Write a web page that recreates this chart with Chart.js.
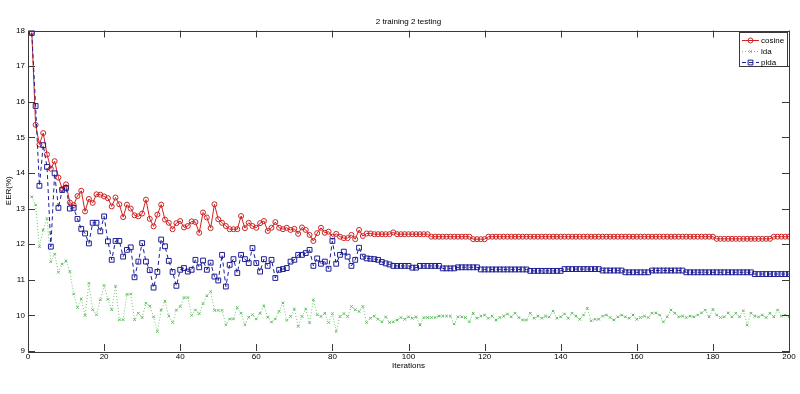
<!DOCTYPE html>
<html>
<head>
<meta charset="utf-8">
<script src="https://cdn.jsdelivr.net/npm/chart.js@4.4.1/dist/chart.umd.min.js"></script>
<style>
  html, body { margin: 0; padding: 0; background: #fff; }
  canvas { display: block; }
</style>
</head>
<body>
<canvas id="eer-chart" width="800" height="394"></canvas>
<script>
// x positions: one point per training iteration
const iterations = Array.from({ length: 200 }, (_, i) => i + 1);

const cosineEer = [
  17.95, 15.35, 14.8, 15.12, 14.52, 14.12, 14.33, 13.87, 13.55, 13.68,
  13.17, 13.1, 13.35, 13.5, 12.92, 13.27, 13.16, 13.4, 13.39, 13.34,
  13.29, 13.06, 13.31, 13.12, 12.76, 13.11, 13.0, 12.81, 12.78, 12.86,
  13.25, 12.71, 12.5, 12.83, 13.11, 12.69, 12.6, 12.42, 12.59, 12.65,
  12.47, 12.51, 12.64, 12.62, 12.32, 12.89, 12.75, 12.45, 13.12, 12.7,
  12.6, 12.51, 12.42, 12.42, 12.42, 12.79, 12.45, 12.6, 12.51, 12.46,
  12.59, 12.65, 12.37, 12.46, 12.62, 12.46, 12.42, 12.46, 12.4, 12.43,
  12.29, 12.47, 12.4, 12.26, 12.09, 12.31, 12.46, 12.32, 12.35, 12.21,
  12.29, 12.21, 12.17, 12.17, 12.26, 12.14, 12.4, 12.23, 12.3, 12.3,
  12.28, 12.28, 12.28, 12.28, 12.28, 12.33, 12.28, 12.28, 12.28, 12.28,
  12.28, 12.28, 12.28, 12.28, 12.28, 12.21, 12.21, 12.21, 12.21, 12.21,
  12.21, 12.21, 12.21, 12.21, 12.21, 12.21, 12.14, 12.14, 12.14, 12.14,
  12.21, 12.21, 12.21, 12.21, 12.21, 12.21, 12.21, 12.21, 12.21, 12.21,
  12.21, 12.21, 12.21, 12.21, 12.21, 12.21, 12.21, 12.21, 12.21, 12.21,
  12.21, 12.21, 12.21, 12.21, 12.21, 12.21, 12.21, 12.21, 12.21, 12.21,
  12.21, 12.21, 12.21, 12.21, 12.21, 12.21, 12.21, 12.21, 12.21, 12.21,
  12.21, 12.21, 12.21, 12.21, 12.21, 12.21, 12.21, 12.21, 12.21, 12.21,
  12.21, 12.21, 12.21, 12.21, 12.21, 12.21, 12.21, 12.21, 12.21, 12.21,
  12.15, 12.15, 12.15, 12.15, 12.15, 12.15, 12.15, 12.15, 12.15, 12.15,
  12.15, 12.15, 12.15, 12.15, 12.15, 12.21, 12.21, 12.21, 12.21, 12.21,
];

const ldaEer = [
  13.33, 13.1, 11.93, 12.4, 12.72, 11.51, 11.72, 11.21, 11.44, 11.53,
  11.23, 10.6, 10.22, 10.46, 10.0, 10.9, 10.16, 10.02, 10.44, 10.84,
  10.45, 10.16, 10.82, 9.88, 9.88, 10.59, 10.6, 9.88, 10.06, 9.94,
  10.34, 10.26, 9.96, 9.55, 10.15, 10.4, 9.98, 9.8, 10.15, 10.25,
  10.5, 10.5, 10.0, 10.15, 10.05, 10.33, 10.55, 10.67, 10.14, 10.14,
  10.14, 9.74, 9.9, 9.9, 10.22, 10.06, 9.74, 9.95, 10.02, 9.9,
  10.06, 10.27, 9.95, 9.81, 9.9, 10.11, 10.35, 9.86, 9.97, 10.18,
  9.69, 9.97, 10.18, 9.79, 10.44, 10.02, 9.97, 10.06, 9.8, 10.05,
  9.55, 9.97, 10.05, 9.97, 10.25, 10.16, 10.11, 10.25, 9.8, 9.92,
  9.98, 9.89, 9.82, 9.96, 9.8, 9.82, 9.87, 9.94, 9.89, 9.96,
  9.92, 9.96, 9.73, 9.94, 9.94, 9.94, 9.94, 9.98, 9.98, 9.98,
  9.98, 9.76, 9.96, 9.96, 9.94, 9.82, 10.06, 9.92, 9.98, 10.01,
  9.92, 9.98, 9.87, 9.94, 9.98, 10.04, 9.96, 10.06, 9.94, 9.87,
  9.87, 10.06, 9.92, 9.98, 9.92, 9.98, 9.96, 10.12, 9.92, 9.96,
  10.04, 9.92, 10.06, 9.98, 9.89, 10.01, 10.2, 9.85, 9.89, 9.89,
  9.98, 10.01, 9.94, 9.87, 9.96, 10.01, 9.96, 9.92, 10.01, 9.89,
  9.94, 9.98, 9.94, 10.06, 10.07, 10.01, 9.82, 9.96, 10.15, 10.06,
  9.96, 9.98, 9.94, 9.98, 9.96, 10.01, 10.07, 10.15, 9.96, 10.17,
  10.01, 9.94, 9.96, 10.07, 9.96, 10.06, 9.96, 10.13, 9.73, 10.06,
  9.98, 9.96, 10.01, 9.94, 10.06, 9.96, 10.15, 9.98, 10.01, 9.96,
];

const pldaEer = [
  17.93, 15.88, 13.64, 14.78, 14.17, 11.93, 13.99, 13.02, 13.52, 13.58,
  13.0, 13.02, 12.71, 12.43, 12.3, 12.02, 12.6, 12.6, 12.36, 12.78,
  12.08, 11.56, 12.09, 12.09, 11.65, 11.84, 11.91, 11.07, 11.51, 12.03,
  11.51, 11.27, 10.78, 11.22, 12.13, 11.94, 11.53, 11.22, 10.83, 11.28,
  11.33, 11.23, 11.28, 11.56, 11.35, 11.54, 11.28, 11.48, 11.09, 10.98,
  11.7, 10.81, 11.42, 11.58, 11.19, 11.7, 11.58, 11.47, 11.89, 11.47,
  11.23, 11.58, 11.39, 11.56, 11.05, 11.28, 11.3, 11.33, 11.51, 11.56,
  11.7, 11.7, 11.75, 11.84, 11.39, 11.6, 11.45, 11.51, 11.31, 12.09,
  11.45, 11.7, 11.79, 11.65, 11.39, 11.56, 11.9, 11.65, 11.6, 11.59,
  11.58, 11.56, 11.5, 11.46, 11.43, 11.39, 11.39, 11.39, 11.39, 11.39,
  11.34, 11.34, 11.39, 11.39, 11.39, 11.39, 11.39, 11.39, 11.32, 11.32,
  11.32, 11.32, 11.35, 11.35, 11.35, 11.35, 11.35, 11.35, 11.29, 11.29,
  11.29, 11.29, 11.29, 11.29, 11.29, 11.29, 11.29, 11.29, 11.29, 11.29,
  11.29, 11.25, 11.25, 11.25, 11.25, 11.25, 11.25, 11.25, 11.25, 11.25,
  11.3, 11.3, 11.3, 11.3, 11.3, 11.3, 11.3, 11.3, 11.3, 11.3,
  11.26, 11.26, 11.26, 11.26, 11.26, 11.26, 11.21, 11.21, 11.21, 11.21,
  11.21, 11.21, 11.21, 11.26, 11.26, 11.26, 11.26, 11.26, 11.26, 11.26,
  11.26, 11.26, 11.21, 11.21, 11.21, 11.21, 11.21, 11.21, 11.21, 11.21,
  11.21, 11.21, 11.21, 11.21, 11.21, 11.21, 11.21, 11.21, 11.21, 11.21,
  11.16, 11.16, 11.16, 11.16, 11.16, 11.16, 11.16, 11.16, 11.16, 11.16,
];

const xTicks = [0, 20, 40, 60, 80, 100, 120, 140, 160, 180, 200];
const yTicks = [9, 10, 11, 12, 13, 14, 15, 16, 17, 18];

const AXIS_COLOR = "#3a3a3a";
const TICK_LEN = 7;
const FONT_FAMILY = "'Liberation Sans', Arial, Helvetica, sans-serif";

Chart.defaults.font.family = FONT_FAMILY;
Chart.defaults.font.size = 8;
Chart.defaults.color = "#000";

function toPoints(values) {
  return values.map((v, i) => ({ x: iterations[i], y: v }));
}

// matlab style box around the axes with inward tick marks on all four sides
const matlabAxes = {
  id: "matlabAxes",
  afterDatasetsDraw(chart) {
    const { ctx, chartArea: a, scales } = chart;
    ctx.save();
    ctx.strokeStyle = AXIS_COLOR;
    ctx.lineWidth = 1;
    ctx.setLineDash([]);
    ctx.beginPath();
    scales.x.ticks.forEach((t) => {
      const px = Math.round(scales.x.getPixelForValue(t.value)) + 0.5;
      ctx.moveTo(px, a.bottom);
      ctx.lineTo(px, a.bottom - TICK_LEN);
      ctx.moveTo(px, a.top);
      ctx.lineTo(px, a.top + TICK_LEN);
    });
    scales.y.ticks.forEach((t) => {
      const py = Math.round(scales.y.getPixelForValue(t.value)) + 0.5;
      ctx.moveTo(a.left, py);
      ctx.lineTo(a.left + TICK_LEN, py);
      ctx.moveTo(a.right, py);
      ctx.lineTo(a.right - TICK_LEN, py);
    });
    ctx.stroke();
    ctx.strokeRect(
      Math.round(a.left) + 0.5,
      Math.round(a.top) + 0.5,
      Math.round(a.width),
      Math.round(a.height)
    );
    ctx.restore();
  },
};

// legend box inside the top right corner, line + marker samples
const boxLegend = {
  id: "boxLegend",
  afterDraw(chart) {
    const { ctx, chartArea: a } = chart;
    const w = 48;
    const h = 34;
    const rowH = 11;
    const x0 = Math.round(a.right) - w - 2;
    const y0 = Math.round(a.top) + 1;
    ctx.save();
    ctx.fillStyle = "#fff";
    ctx.fillRect(x0, y0, w, h);
    ctx.strokeStyle = AXIS_COLOR;
    ctx.lineWidth = 1;
    ctx.strokeRect(x0 + 0.5, y0 + 0.5, w, h);

    chart.data.datasets.forEach((ds, i) => {
      const cy = y0 + 8 + i * rowH + 0.5;
      ctx.strokeStyle = ds.borderColor;
      ctx.lineWidth = 1;
      ctx.setLineDash(ds.borderDash || []);
      ctx.beginPath();
      ctx.moveTo(x0 + 3, cy);
      ctx.lineTo(x0 + 20, cy);
      ctx.stroke();
      ctx.setLineDash([]);
      ctx.fillStyle = "rgba(0,0,0,0)";
      Chart.helpers.drawPoint(
        ctx,
        { pointStyle: ds.pointStyle, radius: ds.pointRadius, borderWidth: 1, rotation: 0 },
        x0 + 11.5,
        cy
      );
      ctx.fillStyle = "#000";
      ctx.font = "8px " + FONT_FAMILY;
      ctx.textBaseline = "middle";
      ctx.textAlign = "left";
      ctx.fillText(ds.label, x0 + 22, cy);
    });
    ctx.restore();
  },
};

const ctx = document.getElementById("eer-chart").getContext("2d");
new Chart(ctx, {
  type: "line",
  data: {
    datasets: [
      {
        label: "cosine",
        data: toPoints(cosineEer),
        borderColor: "rgb(205, 35, 35)",
        backgroundColor: "rgba(0,0,0,0)",
        borderWidth: 1,
        pointStyle: "circle",
        pointRadius: 2.5,
        pointBorderWidth: 1,
        pointBorderColor: "rgb(205, 35, 35)",
        pointBackgroundColor: "rgba(0,0,0,0)",
        tension: 0,
        order: 3,
      },
      {
        label: "lda",
        data: toPoints(ldaEer),
        borderColor: "rgb(110, 195, 110)",
        backgroundColor: "rgba(0,0,0,0)",
        borderWidth: 1,
        borderDash: [1, 2],
        pointStyle: "crossRot",
        pointRadius: 1.8,
        pointBorderWidth: 1,
        pointBorderColor: "rgb(95, 185, 95)",
        pointBackgroundColor: "rgba(0,0,0,0)",
        tension: 0,
        order: 2,
      },
      {
        label: "plda",
        data: toPoints(pldaEer),
        borderColor: "rgb(30, 30, 150)",
        backgroundColor: "rgba(0,0,0,0)",
        borderWidth: 1,
        borderDash: [4, 3],
        pointStyle: "rect",
        pointRadius: 3.4,
        pointBorderWidth: 1,
        pointBorderColor: "rgb(30, 30, 150)",
        pointBackgroundColor: "rgba(0,0,0,0)",
        tension: 0,
        order: 1,
      },
    ],
  },
  options: {
    responsive: false,
    animation: false,
    devicePixelRatio: 1,
    layout: {
      padding: { left: 0, right: 11, top: 0, bottom: 23 },
    },
    plugins: {
      legend: { display: false },
      tooltip: { enabled: false },
      title: {
        display: true,
        text: "2 training 2 testing",
        fullSize: false,
        color: "#000",
        font: { size: 8, weight: "normal" },
        padding: { top: 16.7, bottom: 4.2 },
      },
    },
    scales: {
      x: {
        type: "linear",
        min: 0,
        max: 200,
        afterBuildTicks: (scale) => {
          scale.ticks = xTicks.map((v) => ({ value: v }));
        },
        afterFit: (scale) => {
          scale.height = 20;
        },
        ticks: {
          autoSkip: false,
          maxRotation: 0,
          padding: 1,
          color: "#000",
          font: { size: 8 },
        },
        grid: { display: false, drawTicks: false },
        border: { display: false },
        title: {
          display: true,
          text: "Iterations",
          color: "#000",
          font: { size: 8 },
          padding: { top: 0, bottom: 0 },
        },
      },
      y: {
        type: "linear",
        min: 9,
        max: 18,
        afterBuildTicks: (scale) => {
          scale.ticks = yTicks.map((v) => ({ value: v }));
        },
        afterFit: (scale) => {
          scale.width = 28;
        },
        ticks: {
          autoSkip: false,
          padding: 3,
          color: "#000",
          font: { size: 8 },
        },
        grid: { display: false, drawTicks: false },
        border: { display: false },
        title: {
          display: true,
          text: "EER(%)",
          color: "#000",
          font: { size: 8 },
          padding: { top: 4.4, bottom: 0 },
        },
      },
    },
  },
  plugins: [matlabAxes, boxLegend],
});
</script>
</body>
</html>
